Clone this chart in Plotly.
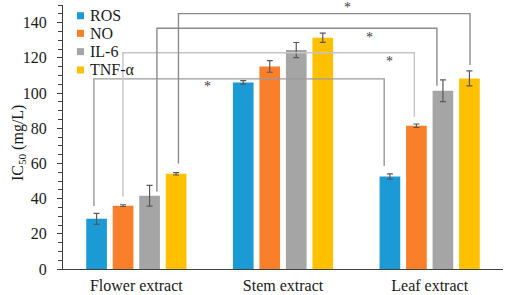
import plotly.graph_objects as go

categories = ["Flower extract", "Stem extract", "Leaf extract"]
series = ["ROS", "NO", "IL-6", "TNF-α"]
colors = ["#1C9AD6", "#FA7F2B", "#A5A5A5", "#FFC000"]
ros = [28.5, 106.0, 52.6]
no = [36.0, 115.1, 81.4]
il6 = [41.6, 124.4, 101.3]
tnf = [54.1, 131.4, 108.3]
ros_err = [3.1, 1.0, 1.5]
no_err = [0.5, 3.3, 1.0]
il6_err = [5.9, 4.3, 6.2]
tnf_err = [0.7, 2.6, 4.3]
values = [ros, no, il6, tnf]
errors = [ros_err, no_err, il6_err, tnf_err]

# significance brackets: (series index, x nudge left, x nudge right, level, left bottom, right bottom, line color)
brackets = [
    (0, -0.018, -0.039, 108.0, 35.8, 58.5, "#9a9a9a"),
    (1, -0.001, -0.014, 122.9, 41.1, 86.5, "#c4c4c4"),
    (2, 0.050, -0.041, 136.8, 43.9, 104.1, "#8c8c8c"),
    (3, 0.016, 0.004, 145.1, 60.0, 115.9, "#8c8c8c"),
]
stars = [(0.482, 103.5), (1.725, 118.0), (1.588, 131.6), (1.441, 148.3)]

FONT = "Liberation Serif, Times New Roman, Times, serif"
BARGAP = 0.277
slot = (1 - BARGAP) / 4

fig = go.Figure()
for i, (name, vals, errs) in enumerate(zip(series, values, errors)):
    fig.add_trace(go.Bar(
        x=categories, y=vals, name=name, showlegend=False,
        marker=dict(color=colors[i], line=dict(width=0)),
        error_y=dict(type="data", array=errs, visible=True, color="#595959", thickness=1.2, width=3),
    ))

shapes = []
for (si, nl, nr, lvl, lb, rb, col) in brackets:
    off = (si - 1.5) * slot
    xl = 0 + off + nl
    xr = 2 + off + nr
    shapes.append(dict(type="path", xref="x", yref="y",
                       path=f"M {xl},{lb} L {xl},{lvl} L {xr},{lvl} L {xr},{rb}",
                       line=dict(color=col, width=1.4)))

annotations = []
for (sx, sy) in stars:
    annotations.append(dict(x=sx, y=sy, xref="x", yref="y", text="*", showarrow=False,
                            font=dict(family=FONT, size=14, color="#404040")))

# legend drawn manually
leg_y = [143.9, 133.9, 123.5, 113.1]
for name, col, ly in zip(series, colors, leg_y):
    shapes.append(dict(type="rect", xref="paper", yref="y",
                       x0=(77 - 63) / 440, x1=(84 - 63) / 440, y0=ly - 2.0, y1=ly + 2.0,
                       fillcolor=col, line=dict(width=0)))
    annotations.append(dict(x=(88 - 63) / 440, y=ly, xref="paper", yref="y", text=name,
                            xanchor="left", yanchor="middle", showarrow=False,
                            font=dict(family=FONT, size=16, color="#1a1a1a")))

# y-axis title
annotations.append(dict(x=(18 - 63) / 440, y=0.477, xref="paper", yref="paper",
                        text="IC<sub>50</sub> (mg/L)", textangle=-90, showarrow=False,
                        xanchor="center", yanchor="middle",
                        font=dict(family=FONT, size=16, color="#1a1a1a")))

fig.update_layout(
    width=505, height=295,
    margin=dict(l=63, r=2, t=5, b=26),
    paper_bgcolor="white", plot_bgcolor="white",
    barmode="group", bargap=BARGAP, bargroupgap=0.22,
    shapes=shapes, annotations=annotations,
    font=dict(family=FONT, size=16, color="#1a1a1a"),
    xaxis=dict(showline=True, linecolor="#404040", linewidth=1.3, ticks="", showgrid=False,
               range=[-0.5, 2.5], tickfont=dict(family=FONT, size=16), ticklabelstandoff=2),
    yaxis=dict(range=[0, 150], dtick=20, showline=True, linecolor="#404040", linewidth=1.3,
               ticks="outside", ticklen=5, tickcolor="#404040", showgrid=False, zeroline=False,
               minor=dict(dtick=5, ticks="outside", ticklen=4, tickcolor="#404040"),
               ticklabelstandoff=7,
               tickfont=dict(family=FONT, size=16)),
)
fig.write_html("out.html", config={"displayModeBar": False},
               post_script="document.body.style.margin='0';document.body.style.padding='0';")
